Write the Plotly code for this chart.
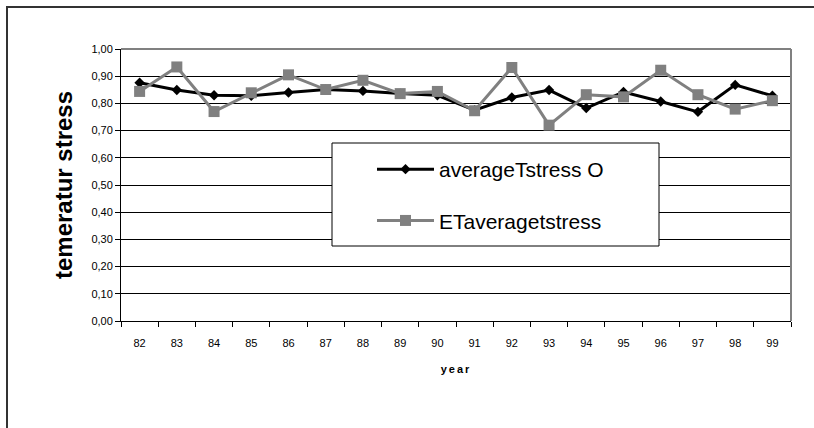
import plotly.graph_objects as go

# Yearly temperature stress values
years = ["82", "83", "84", "85", "86", "87", "88", "89", "90",
         "91", "92", "93", "94", "95", "96", "97", "98", "99"]
average_t_stress_o = [0.876, 0.849, 0.830, 0.828, 0.840, 0.851, 0.846, 0.836, 0.830,
                      0.775, 0.822, 0.849, 0.783, 0.842, 0.807, 0.769, 0.868, 0.828]
et_average_t_stress = [0.844, 0.934, 0.770, 0.839, 0.905, 0.851, 0.885, 0.836, 0.844,
                       0.773, 0.932, 0.720, 0.832, 0.824, 0.922, 0.832, 0.779, 0.810]
y_ticks = [0.0, 0.1, 0.2, 0.3, 0.4, 0.5, 0.6, 0.7, 0.8, 0.9, 1.0]

FONT = "Arial, Liberation Sans, sans-serif"

fig = go.Figure()
fig.add_trace(go.Scatter(
    x=years, y=average_t_stress_o, name="averageTstress O",
    mode="lines+markers", legendgroup="a",
    line=dict(color="#000000", width=3),
    marker=dict(symbol="diamond", size=8, color="#000000"),
))
fig.add_trace(go.Scatter(
    x=years, y=et_average_t_stress, name="ETaveragetstress",
    mode="lines+markers", legendgroup="b",
    line=dict(color="#808080", width=3),
    marker=dict(symbol="square", size=11, color="#808080"),
))

# plot area spans 121..791 px horizontally, 49..321 px vertically
L, R, T, B = 121, 23, 49, 107
W, H = 814 - L - R, 428 - T - B


def px_x(p):
    return (p - L) / W


def px_y(p):
    return (428 - B - p) / H


frame = dict(color="#333333", width=2)
shapes = [
    # outer chart frame: top and left edges (the rest runs off the page)
    dict(type="line", xref="paper", yref="paper",
         x0=px_x(6), x1=px_x(814), y0=px_y(7), y1=px_y(7), line=frame, layer="below"),
    dict(type="line", xref="paper", yref="paper",
         x0=px_x(7), x1=px_x(7), y0=px_y(6), y1=px_y(428), line=frame, layer="below"),
    # plot-area border (top/right gray)
    dict(type="line", xref="paper", yref="paper", x0=0, x1=1, y0=1, y1=1,
         line=dict(color="#808080", width=2), layer="above"),
    dict(type="line", xref="paper", yref="paper", x0=1, x1=1, y0=0, y1=1,
         line=dict(color="#808080", width=2), layer="above"),
    # legend box
    dict(type="rect", xref="paper", yref="paper",
         x0=px_x(332), x1=px_x(659), y0=px_y(246), y1=px_y(143),
         line=dict(color="#000000", width=1), fillcolor="#ffffff", layer="above"),
]

fig.update_layout(
    width=814, height=428,
    margin=dict(l=L, r=R, t=T, b=B),
    paper_bgcolor="#ffffff", plot_bgcolor="#ffffff",
    separators=", ",
    font=dict(family=FONT, color="#000000"),
    showlegend=True,
    legend=dict(
        x=px_x(372), y=px_y(149), xanchor="left", yanchor="top",
        bgcolor="rgba(0,0,0,0)", borderwidth=0,
        font=dict(size=21, family=FONT, color="#000000"),
        itemwidth=57, traceorder="grouped", tracegroupgap=21,
    ),
    shapes=shapes,
    xaxis=dict(
        type="category", range=[-0.5, len(years) - 0.5],
        tickson="boundaries", ticks="outside", ticklen=5,
        tickcolor="#000000", showline=True, linecolor="#000000", linewidth=1,
        showgrid=False, zeroline=False, ticklabelstandoff=12,
        tickfont=dict(size=11, family=FONT, color="#000000"),
        title=dict(text='<span style="letter-spacing:2px">year</span>',
                   font=dict(size=11, family=FONT, color="#000000", weight="bold"),
                   standoff=17),
    ),
    yaxis=dict(
        range=[0, 1.0], tickvals=y_ticks, tickformat=".2f",
        ticks="outside", ticklen=5, tickcolor="#000000",
        showline=True, linecolor="#000000", linewidth=1,
        showgrid=True, gridcolor="#000000", gridwidth=1, zeroline=False,
        tickfont=dict(size=11, family=FONT, color="#000000"),
        title=dict(text="temeratur stress",
                   font=dict(size=24, family=FONT, color="#000000", weight="bold"),
                   standoff=11),
    ),
)

# keep the page free of scrollbars
fig.write_html(
    "out.html",
    config={"displayModeBar": False},
    post_script="document.documentElement.style.overflow='hidden';"
                "document.body.style.overflow='hidden';",
)
